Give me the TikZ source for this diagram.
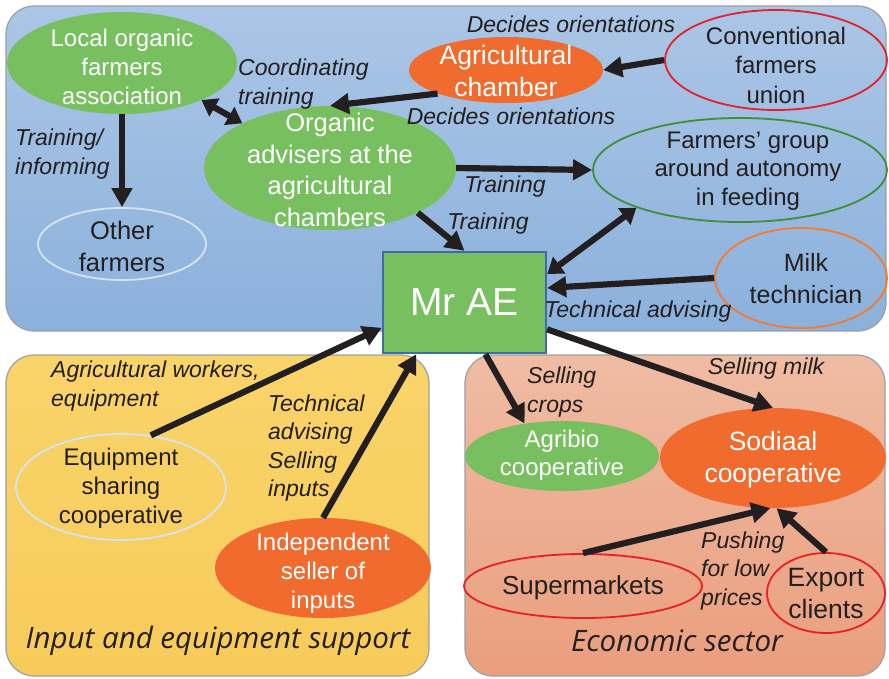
\documentclass[tikz,border=0pt]{standalone}
\usepackage{fontspec}
\setmainfont{Liberation Sans}
\newfontfamily\titlefont{Open Sans}
\usetikzlibrary{shapes.geometric,arrows.meta}
\definecolor{bluetop}{HTML}{ABC6E6}
\definecolor{bluebot}{HTML}{8BB1DC}
\definecolor{yeltop}{HTML}{F9D46A}
\definecolor{yelbot}{HTML}{F7CB5A}
\definecolor{saltop}{HTML}{EFBCA3}
\definecolor{salbot}{HTML}{EA9E7E}
\definecolor{agreen}{HTML}{78BF60}
\definecolor{aorange}{HTML}{F06B2D}
\definecolor{ared}{HTML}{E6202A}
\definecolor{dgreen}{HTML}{3E8E3A}
\definecolor{lorange}{HTML}{F47B2E}
\definecolor{lblue}{HTML}{D5E5EF}
\definecolor{ink}{HTML}{231F20}
\definecolor{boxblue}{HTML}{3D6DA3}
\definecolor{frame}{HTML}{9AA0A8}
\newcommand\fsz[2]{\fontsize{#1}{#2}\selectfont}
\begin{document}
\begin{tikzpicture}[x=1pt,y=-1pt,
  panel/.style={draw=frame, line width=1.2pt, rounded corners=28pt},
  ell/.style 2 args={ellipse, inner sep=0pt, minimum width=#1pt, minimum height=#2pt},
  gfill/.style={fill=agreen, draw=none},
  ofill/.style={fill=aorange, draw=none},
  redline/.style={draw=ared, line width=1.8pt},
  wtxt/.style={text=white, align=center, inner sep=0pt},
  dtxt/.style={text=ink, align=center, inner sep=0pt},
  lab/.style={text=ink, align=left, inner sep=0pt, font=\fsz{23}{28.5}\itshape},
  arr/.style={draw=ink, line width=6.2pt, -{Triangle[length=19pt,width=20pt]}},
  darr/.style={draw=ink, line width=6.2pt, {Triangle[length=15pt,width=20pt]}-{Triangle[length=15pt,width=20pt]}},
]
\fill[white] (0,0) rectangle (889,678);
\useasboundingbox (0,0) rectangle (889,678);
% panels
\path[panel, top color=bluetop, bottom color=bluebot] (6,6) rectangle (886,331);
\path[panel, top color=yeltop, bottom color=yelbot] (6,355) rectangle (429,676);
\path[panel, top color=saltop, bottom color=salbot] (465,355) rectangle (885,676);
% nodes
\node[ell={230}{102}, gfill] (loc) at (122,63) {};
\node[wtxt, font=\fsz{24}{29}] (loct) at (122,67) {Local organic\\farmers\\association};
\node[ell={168}{72}, draw=lblue, line width=1.8pt] (oth) at (122,244) {};
\node[dtxt, font=\fsz{25.5}{32}] (otht) at (122,246) {Other\\farmers};
\node[ell={252}{124}, gfill] (adv) at (330,168) {};
\node[wtxt, font=\fsz{25.5}{31.5}] (advt) at (330,170) {Organic\\advisers at the\\agricultural\\chambers};
\node[ell={194}{66}, ofill] (cham) at (506,70) {};
\node[wtxt, font=\fsz{26.5}{32}] (chamt) at (506,71) {Agricultural\\chamber};
\node[ell={222}{100}, redline] (conv) at (776,60) {};
\node[dtxt, font=\fsz{24}{29.5}] (convt) at (776,65) {Conventional\\farmers\\union};
\node[ell={294}{104}, draw=dgreen, line width=1.8pt] (grp) at (740,170) {};
\node[dtxt, font=\fsz{24}{28.5}] (grpt) at (748,171) {Farmers’ group\\around autonomy\\in feeding};
\node[ell={172}{100}, draw=lorange, line width=1.8pt] (milk) at (801,278) {};
\node[dtxt, font=\fsz{25}{32}] (milkt) at (806,279) {Milk\\technician};
\node[draw=boxblue, line width=2.4pt, fill=agreen, minimum width=163pt, minimum height=101pt, inner sep=0pt, text=white, font=\fsz{39}{40}] (mr) at (464.5,302.5) {Mr AE};
\node[ell={210}{106}, draw=lblue, line width=1.8pt] (eq) at (121,487) {};
\node[dtxt, font=\fsz{24}{29}] (eqt) at (121,488) {Equipment\\sharing\\cooperative};
\node[ell={216}{100}, ofill] (ind) at (323,568) {};
\node[wtxt, font=\fsz{24}{29}] (indt) at (323,573) {Independent\\seller of\\inputs};
\node[ell={194}{70}, gfill] (agri) at (562,456) {};
\node[wtxt, font=\fsz{24}{28}] (agrit) at (562,455) {Agribio\\cooperative};
\node[ell={226}{100}, ofill] (sod) at (773,458) {};
\node[wtxt, font=\fsz{26.5}{32}] (sodt) at (773,460) {Sodiaal\\cooperative};
\node[ell={238}{64}, redline] (sup) at (583,586) {};
\node[dtxt, font=\fsz{26}{30}] (supt) at (583,588) {Supermarkets};
\node[ell={118}{80}, redline] (exp) at (826,593) {};
\node[dtxt, font=\fsz{26.5}{32}] (expt) at (826,594) {Export\\clients};
% connectors
\draw[arr] (loc.south) -- (oth.north);
\draw[darr] (loc.-25) -- (adv.153);
\draw[arr] (cham.199) -- (adv.north);
\draw[arr] (conv.west) -- (cham.east);
\draw[arr] (adv.east) -- (grp.west);
\draw[arr] (adv.-27) -- (mr.north);
\draw[darr] (grp.200) -- (mr.19);
\draw[arr] (milk.west) -- (mr.10);
\draw[arr] (eq.60) -- (mr.197);
\draw[arr] (ind.north) -- (mr.227);
\draw[arr] (mr.-68) -- (agri.139);
\draw[arr] (mr.-18.5) -- (sod.north);
\draw[arr] (sup.north) -- (sod.-93);
\draw[arr] (exp.north) -- (sod.-86);
% labels
\node[lab, align=center] (l1) at (571,24) {Decides orientations};
\node[lab, align=center] (l2) at (511,116) {Decides orientations};
\node[lab, anchor=west] (l3) at (238,84) {Coordinating\\training};
\node[lab, anchor=west] (l4) at (15,154) {Training/\\informing};
\node[lab] (l5) at (505,187) {Training};
\node[lab] (l6) at (488,224) {Training};
\node[lab] (l7) at (638,312) {Technical advising};
\node[lab, anchor=west] (l8) at (51,386) {Agricultural workers,\\equipment};
\node[lab, anchor=west] (l9) at (268,448) {Technical\\advising\\Selling\\inputs};
\node[lab, anchor=west] (l10) at (527,392) {Selling\\crops};
\node[lab] (l11) at (766,369) {Selling milk};
\node[lab, anchor=west] (l12) at (701,571) {Pushing\\for low\\prices};
\node[dtxt, font=\titlefont\itshape\fsz{29.5}{30}] (t1) at (218,641) {Input and equipment support};
\node[dtxt, font=\titlefont\itshape\fsz{29.5}{30}] (t2) at (677,641) {Economic sector};
\end{tikzpicture}
\end{document}
